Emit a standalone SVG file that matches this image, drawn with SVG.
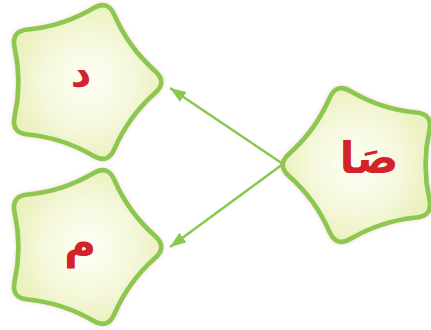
<svg xmlns="http://www.w3.org/2000/svg" width="431" height="330" viewBox="0 0 431 330">
<style>
.star{fill:url(#sg);stroke:#8cc850;stroke-width:4.5;stroke-linejoin:round;filter:url(#glow)}
.lbl{font-family:"DejaVu Sans",sans-serif;font-weight:bold;fill:#d3222a;text-anchor:middle}
.conn{stroke:#8cc850;stroke-width:2.6;fill:none;marker-end:url(#ah)}
</style>
<defs>
<radialGradient id="sg" cx="0.5" cy="0.5" r="0.5">
<stop offset="0" stop-color="#fefef6"/>
<stop offset="0.6" stop-color="#f6f8dc"/>
<stop offset="1" stop-color="#ecf1c0"/>
</radialGradient>
<filter id="glow" x="-20%" y="-20%" width="140%" height="140%">
<feDropShadow dx="0" dy="0" stdDeviation="2" flood-color="#e8a0a0" flood-opacity="0.45"/>
</filter>
<path id="starShape" d="M71.88,-10.72 Q84,0 71.88,10.72 Q46.11,33.50 32.41,65.05 Q25.96,79.89 12.02,71.67 Q-17.61,54.21 -51.85,50.92 Q-67.96,49.37 -64.45,33.57 Q-57,0 -64.45,-33.57 Q-67.96,-49.37 -51.85,-50.92 Q-17.61,-54.21 12.02,-71.67 Q25.96,-79.89 32.41,-65.05 Q46.11,-33.50 71.88,-10.72 Z"/>
<marker id="ah" markerUnits="userSpaceOnUse" markerWidth="18" markerHeight="14" refX="16" refY="6" orient="auto">
<path d="M0,0 L16,6 L0,12 Z" fill="#8cc850"/>
</marker>
</defs>
<g id="connectors">
<line class="conn" x1="283" y1="164" x2="170" y2="88"/>
<line class="conn" x1="283" y1="164" x2="170" y2="247"/>
</g>
<g id="node-dal">
<use href="#starShape" class="star" transform="translate(81,82) scale(1.03)"/>
<text class="lbl" x="81" y="87" font-size="40">د</text>
</g>
<g id="node-meem">
<use href="#starShape" class="star" transform="translate(81,247) scale(1.03)"/>
<text class="lbl" x="80" y="258" font-size="44">م</text>
</g>
<g id="node-sa">
<use href="#starShape" class="star" transform="translate(363,165) rotate(180) scale(1.03)"/>
<text class="lbl" x="369" y="173" font-size="44">صَا</text>
</g>
</svg>
